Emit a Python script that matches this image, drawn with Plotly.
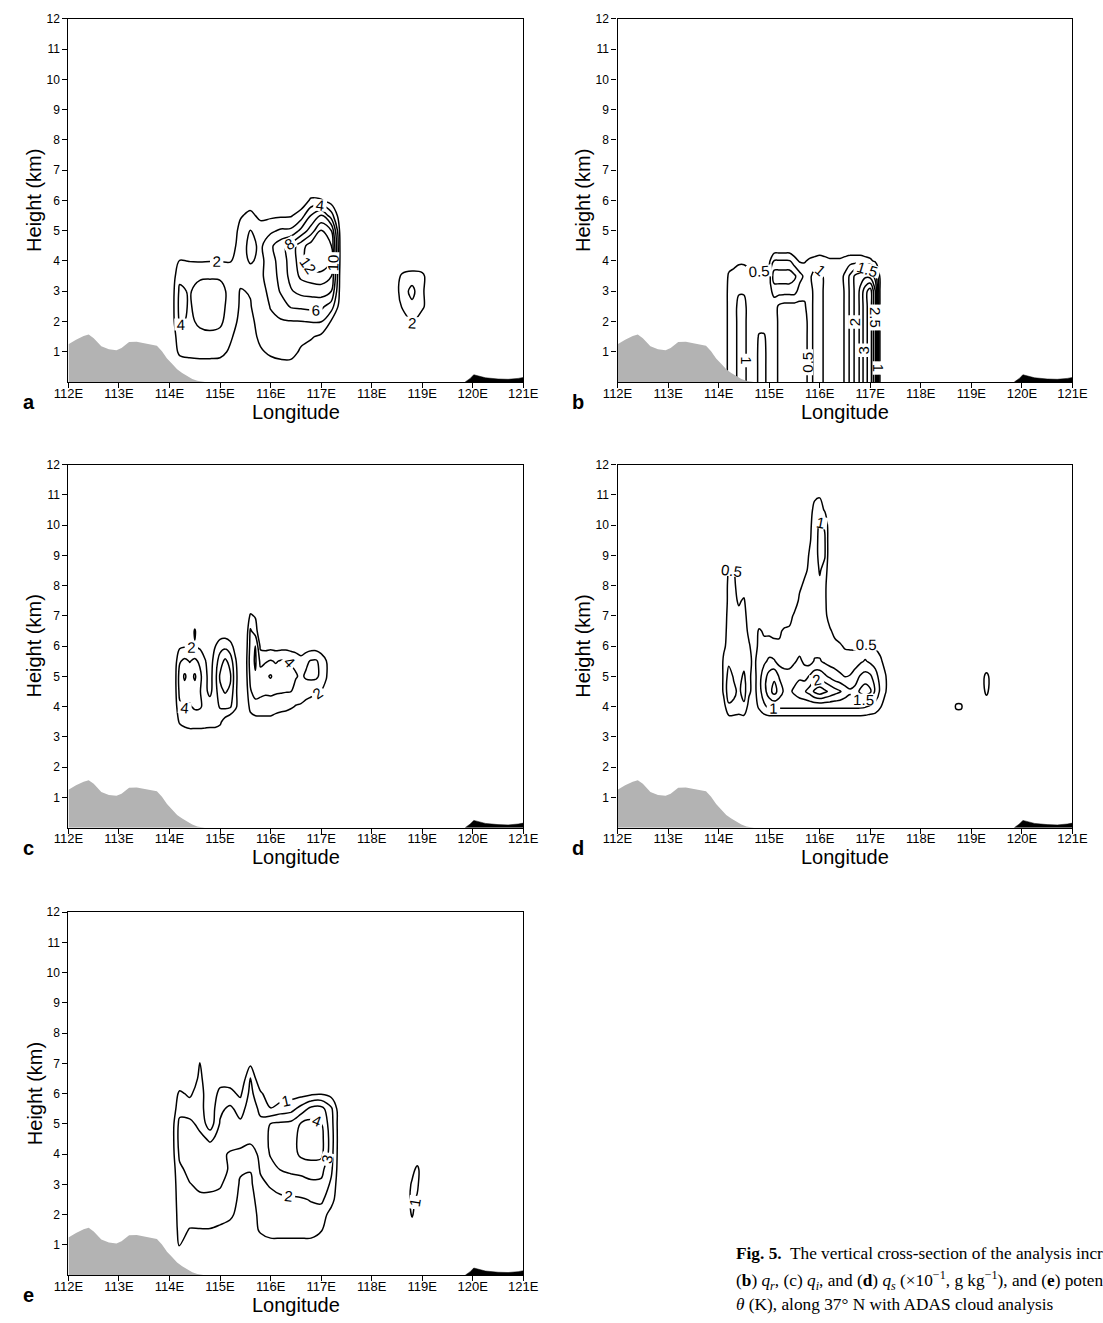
import plotly.graph_objects as go

W, H = 1103, 1323

# ---------------- terrain along 37N ----------------
TERRAIN_LON = [112.0, 112.15, 112.3, 112.4, 112.5, 112.65, 112.8, 112.95, 113.05, 113.2, 113.35,
               113.5, 113.65, 113.75, 113.85, 113.95, 114.05, 114.15, 114.25, 114.35, 114.45, 114.55, 114.7]
TERRAIN_HGT = [1.25, 1.4, 1.52, 1.57, 1.45, 1.18, 1.08, 1.05, 1.12, 1.32, 1.33,
               1.28, 1.22, 1.2, 1.02, 0.78, 0.6, 0.42, 0.3, 0.2, 0.1, 0.04, 0.0]
RIDGE_LON = [119.85, 119.95, 120.02, 120.1, 120.25, 120.5, 120.7, 120.9, 121.0]
RIDGE_HGT = [0.0, 0.12, 0.24, 0.2, 0.14, 0.1, 0.09, 0.12, 0.15]

# ---------------- (a) q_c increment ----------------
A_LON = [113.8, 114.0, 114.2, 114.4, 114.6, 114.8, 115.0, 115.2, 115.4, 115.6,
         115.8, 116.0, 116.2, 116.4, 116.6, 116.8, 117.0, 117.2, 117.4, 117.6]
A_HGT = [0.0, 0.5, 1.0, 1.5, 2.0, 2.5, 3.0, 3.5, 4.0, 4.5, 5.0, 5.5, 6.0, 6.5]
A_QC = [
    [0] * 20,
    [0, 0, 0.5, 0.8, 0.8, 0.8, 0.8, 0.5, 0, 0, 0, 0.6, 1.0, 1.0, 0.6, 0.2, 0, 0, 0, 0],
    [0, 0, 2.5, 2.8, 3.0, 3.0, 2.8, 1.6, 0.4, 0.3, 1.6, 2.6, 3.0, 3.0, 1.6, 1.2, 0.6, 0, 0, 0],
    [0, 0, 3.2, 3.4, 3.6, 3.6, 3.4, 2.4, 0.8, 0.6, 2.8, 3.2, 3.5, 3.5, 2.8, 2.2, 1.6, 0.5, 0, 0],
    [0, 0, 4.3, 3.7, 4.3, 4.6, 4.4, 3.0, 1.5, 1.5, 2.8, 3.6, 3.8, 3.9, 3.95, 4.1, 4.1, 1.8, 0, 0],
    [0, 0, 4.6, 3.8, 4.8, 5.0, 4.8, 3.2, 1.8, 1.9, 3.0, 4.1, 5.0, 6.2, 6.4, 6.6, 6.5, 5.0, 0.5, 0],
    [0, 0, 4.4, 3.8, 5.0, 5.2, 5.0, 3.2, 1.9, 2.1, 3.2, 4.6, 6.2, 7.8, 8.6, 8.8, 9.0, 8.0, 0.5, 0],
    [0, 0, 3.5, 3.2, 3.6, 3.7, 3.6, 2.8, 2.5, 2.6, 3.6, 5.0, 6.6, 8.6, 10.4, 11.0, 11.2, 10.1, 0.3, 0],
    [0, 0, 2.1, 1.95, 1.9, 1.95, 1.95, 1.9, 2.8, 4.3, 3.4, 5.2, 6.8, 8.8, 11.0, 13.4, 13.8, 12.1, 0.3, 0],
    [0, 0, 0.5, 0.4, 0.4, 0.4, 0.5, 0.8, 3.0, 4.6, 3.6, 5.6, 7.2, 8.8, 11.1, 13.0, 13.6, 12.1, 0.3, 0],
    [0, 0, 0, 0, 0, 0, 0, 0.5, 2.6, 4.05, 3.0, 3.6, 4.3, 4.4, 6.5, 9.0, 12.1, 10.1, 0.2, 0],
    [0, 0, 0, 0, 0, 0, 0, 0, 1.8, 2.5, 1.5, 1.6, 1.7, 1.8, 3.0, 6.1, 8.1, 5.0, 0, 0],
    [0, 0, 0, 0, 0, 0, 0, 0, 0, 1.0, 0, 0, 0, 0, 0.5, 2.4, 2.2, 1.0, 0, 0],
    [0] * 20,
]
A2_LON = [118.4, 118.6, 118.8, 119.0, 119.2]
A2_HGT = [1.5, 2.0, 2.5, 3.0, 3.5, 4.0]
A2_QC = [
    [0, 0, 0, 0, 0],
    [0, 0, 2.4, 0.5, 0],
    [0, 2.2, 3.5, 2.5, 0],
    [0, 3.0, 4.6, 2.4, 0],
    [0, 2.4, 3.0, 2.6, 0],
    [0, 0, 0, 0, 0],
]

# ---------------- (b) q_r increment ----------------
B_LON = [114.0, 114.1, 114.2, 114.3, 114.4, 114.5, 114.6, 114.7, 114.8, 114.9,
         115.0, 115.1, 115.2, 115.3, 115.4, 115.5, 115.6, 115.7, 115.8, 115.9,
         116.0, 116.1, 116.2, 116.3, 116.4, 116.5, 116.6, 116.7, 116.8, 116.9,
         117.0, 117.1, 117.2, 117.3, 117.4]
B_HGT = [0.0, 0.5, 1.0, 1.5, 2.0, 2.5, 3.0, 3.5, 4.0, 4.5]
B_QR = [
    [0, 0, 0.7, 0.8, 1.15, 1.15, 0.8, 0.75, 1.1, 1.1, 0.8, 0.7, 0.4, 0.2, 0.15, 0.15, 0.2, 0.3, 0.7, 1.2,
     1.2, 0.9, 0.7, 0.7, 0.8, 1.05, 1.6, 2.1, 2.6, 3.3, 3.8, 2.5, 0.3, 0, 0],
    [0, 0, 0.7, 0.8, 1.15, 1.15, 0.8, 0.75, 1.1, 1.1, 0.8, 0.7, 0.4, 0.2, 0.15, 0.15, 0.2, 0.3, 0.7, 1.2,
     1.2, 0.9, 0.7, 0.7, 0.8, 1.05, 1.6, 2.1, 2.6, 3.3, 3.8, 2.5, 0.3, 0, 0],
    [0, 0, 0.7, 0.8, 1.15, 1.15, 0.8, 0.75, 1.1, 1.1, 0.8, 0.7, 0.4, 0.2, 0.15, 0.15, 0.2, 0.3, 0.7, 1.2,
     1.2, 0.9, 0.7, 0.7, 0.8, 1.05, 1.6, 2.1, 2.6, 3.3, 3.8, 2.5, 0.3, 0, 0],
    [0, 0, 0.7, 0.8, 1.15, 1.15, 0.8, 0.75, 1.05, 1.05, 0.8, 0.7, 0.4, 0.2, 0.15, 0.15, 0.2, 0.3, 0.7, 1.2,
     1.2, 0.9, 0.7, 0.7, 0.8, 1.05, 1.6, 2.1, 2.6, 3.3, 3.8, 2.5, 0.3, 0, 0],
    [0, 0, 0.7, 0.8, 1.15, 1.15, 0.8, 0.75, 0.8, 0.8, 0.8, 0.7, 0.4, 0.2, 0.15, 0.15, 0.2, 0.3, 0.7, 1.2,
     1.2, 0.9, 0.7, 0.7, 0.8, 1.05, 1.6, 2.1, 2.6, 3.3, 3.8, 2.5, 0.3, 0, 0],
    [0, 0, 0.7, 0.8, 1.15, 1.15, 0.8, 0.75, 0.8, 0.8, 0.8, 0.7, 0.4, 0.3, 0.3, 0.3, 0.35, 0.45, 0.7, 1.2,
     1.2, 0.9, 0.7, 0.7, 0.8, 1.05, 1.6, 2.1, 2.6, 3.3, 3.8, 2.5, 0.3, 0, 0],
    [0, 0, 0.7, 0.8, 0.95, 0.95, 0.8, 0.75, 0.8, 0.8, 0.8, 1.2, 1.2, 1.2, 1.2, 1.2, 0.8, 0.6, 0.7, 1.2,
     1.2, 0.9, 0.7, 0.7, 0.8, 1.05, 1.6, 2.1, 2.6, 3.3, 3.8, 2.5, 0.3, 0, 0],
    [0, 0, 0.6, 0.7, 0.8, 0.8, 0.7, 0.6, 0.6, 0.6, 0.8, 1.8, 1.8, 1.8, 1.8, 1.6, 1.2, 0.9, 0.9, 1.2,
     1.2, 0.9, 0.8, 0.8, 0.8, 1.1, 1.6, 2.1, 2.3, 2.4, 2.3, 1.8, 0.3, 0, 0],
    [0, 0, 0.2, 0.3, 0.4, 0.4, 0.3, 0.2, 0.2, 0.2, 0.4, 1.05, 1.05, 1.05, 1.05, 0.7, 0.45, 0.45, 0.6, 0.7,
     0.8, 0.7, 0.6, 0.6, 0.6, 0.7, 0.8, 0.8, 0.8, 0.7, 0.6, 0.4, 0, 0, 0],
    [0] * 35,
]

# ---------------- (c) q_i increment ----------------
C_LON = [113.9, 114.0, 114.1, 114.2, 114.3, 114.4, 114.5, 114.6, 114.7, 114.8,
         114.9, 115.0, 115.1, 115.2, 115.3, 115.4, 115.5, 115.6, 115.7, 115.8,
         115.9, 116.0, 116.1, 116.2, 116.3, 116.4, 116.5, 116.6, 116.7, 116.8,
         116.9, 117.0, 117.1, 117.2, 117.3]
C_HGT = [3.0, 3.5, 4.0, 4.5, 5.0, 5.5, 6.0, 6.5, 7.0, 7.5]
C_QI = [
    [0, 0, 0, 0, 0.5, 0.8, 1.0, 1.0, 1.0, 1.0, 1.0, 0.5],
    [0, 0, 0.5, 2.3, 2.8, 3.0, 2.8, 2.8, 2.7, 2.6, 2.6, 2.4, 1.0, 0, 0, 0, 0, 1.0, 1.2, 1.4,
     1.5, 1.5, 1.3, 1.1, 1.0, 0.8, 0.6, 0.4],
    [0, 0, 0.8, 3.6, 4.2, 3.8, 4.3, 4.2, 3.6, 3.0, 3.2, 4.2, 4.5, 4.3, 2.5, 0.8, 0.3, 2.6, 3.2, 3.0,
     2.8, 2.8, 2.6, 2.5, 2.4, 2.2, 1.9, 1.8, 1.5, 1.3, 1.1, 0.8, 0.4],
    [0, 0, 1.0, 4.5, 5.2, 4.6, 5.2, 4.2, 2.5, 1.5, 3.0, 5.5, 6.2, 5.6, 2.6, 0.5, 0.5, 3.8, 4.8, 4.6,
     4.4, 4.5, 4.3, 4.2, 4.1, 4.05, 3.0, 2.8, 2.6, 2.4, 2.2, 1.9, 1.2],
    [0, 0, 1.0, 4.8, 6.3, 5.0, 6.3, 4.6, 2.6, 1.2, 3.2, 6.3, 6.8, 6.4, 2.8, 0.5, 0.8, 4.5, 5.8, 4.8,
     5.6, 6.2, 5.2, 4.6, 4.4, 4.4, 4.2, 3.6, 4.3, 4.5, 4.4, 3.5, 2.2, 0.3],
    [0, 0, 0.8, 3.8, 4.5, 3.9, 4.5, 3.6, 2.2, 1.0, 2.9, 5.0, 6.5, 5.2, 2.4, 0.3, 0.8, 5.0, 6.3, 3.5,
     3.8, 4.2, 3.8, 4.2, 4.3, 3.9, 3.5, 2.8, 3.6, 4.2, 4.3, 3.2, 2.1, 0.3],
    [0, 0, 0.3, 1.6, 1.8, 1.8, 1.8, 1.6, 1.0, 0.5, 1.9, 3.2, 3.4, 2.8, 1.2, 0, 0.5, 4.6, 6.1, 1.5,
     1.2, 1.3, 1.2, 1.2, 1.2, 1.0, 0.8, 0.6, 0.8, 1.0, 1.0, 0.8, 0.4],
    [0, 0, 0, 0, 0, 0, 2.3, 0, 0, 0, 0, 0.5, 0.7, 0.3, 0, 0, 0, 4.3, 3.0],
    [0, 0, 0, 0, 0, 0, 0, 0, 0, 0, 0, 0, 0, 0, 0, 0, 0, 2.3, 1.8],
    [],
]

# ---------------- (d) q_s increment ----------------
D_LON = [113.9, 114.0, 114.1, 114.2, 114.3, 114.4, 114.5, 114.6, 114.7, 114.8,
         114.9, 115.0, 115.1, 115.2, 115.3, 115.4, 115.5, 115.6, 115.7, 115.8,
         115.9, 116.0, 116.1, 116.2, 116.3, 116.4, 116.5, 116.6, 116.7, 116.8,
         116.9, 117.0, 117.1, 117.2, 117.3, 117.4, 117.5]
D_HGT = [3.5, 4.0, 4.5, 5.0, 5.5, 6.0, 6.5, 7.0, 7.5, 8.0, 8.5, 9.0, 9.5, 10.0, 10.5, 11.0, 11.5]
D_QS = [
    [0, 0, 0, 0.2, 0.2, 0.2, 0.2, 0, 0, 0, 0.1, 0.1, 0.1, 0.1, 0.1, 0.1, 0.1, 0.1, 0.1, 0.1,
     0.1, 0.1, 0.1, 0.1, 0.1, 0.1, 0.1, 0.1, 0.1, 0.1, 0.1, 0.1, 0.1],
    [0, 0, 0.3, 0.9, 0.9, 0.8, 0.9, 0.3, 0.2, 0.6, 0.9, 1.1, 1.1, 1.1, 1.1, 1.1, 1.1, 1.1, 1.1, 1.1,
     1.1, 1.1, 1.1, 1.1, 1.1, 1.1, 1.1, 1.1, 1.1, 1.1, 1.05, 0.9, 0.8, 0.55, 0.2],
    [0, 0, 0.6, 1.3, 1.1, 0.9, 1.2, 0.6, 0.3, 0.8, 1.3, 1.8, 2.2, 1.8, 1.4, 1.4, 1.6, 1.8, 1.95, 2.2,
     2.6, 2.8, 2.6, 2.4, 2.2, 2.05, 1.8, 1.6, 1.7, 2.1, 2.3, 2.1, 1.4, 0.9, 0.55, 0.1],
    [0, 0, 0.6, 1.2, 0.95, 0.8, 1.1, 0.6, 0.3, 0.8, 1.3, 1.7, 1.9, 1.45, 1.2, 1.1, 1.3, 1.4, 1.3, 1.55,
     1.8, 1.8, 1.6, 1.4, 1.2, 1.1, 0.98, 1.02, 1.2, 1.55, 1.7, 1.6, 1.2, 0.8, 0.55, 0.1],
    [0, 0, 0.6, 0.9, 0.8, 0.7, 0.8, 0.6, 0.4, 0.7, 0.9, 1.1, 1.05, 0.8, 0.8, 0.9, 0.95, 1.1, 0.9, 0.8,
     1.05, 1.05, 0.9, 0.8, 0.8, 0.7, 0.7, 0.8, 0.8, 0.9, 1.05, 0.9, 0.8, 0.6, 0.3],
    [0, 0, 0.4, 0.7, 0.7, 0.6, 0.7, 0.55, 0.3, 0.6, 0.6, 0.7, 0.6, 0.55, 0.6, 0.6, 0.7, 0.8, 0.8, 0.8,
     0.8, 0.8, 0.7, 0.6, 0.6, 0.55, 0.45, 0.4, 0.4, 0.55, 0.6, 0.6, 0.45, 0.3, 0.1],
    [0, 0, 0.3, 0.7, 0.6, 0.6, 0.7, 0.4, 0.3, 0.55, 0.45, 0.4, 0.4, 0.45, 0.55, 0.55, 0.6, 0.65, 0.7, 0.7,
     0.75, 0.75, 0.65, 0.55, 0.4, 0.3, 0.2, 0.1, 0.1, 0.1, 0.1, 0.1],
    [0, 0, 0.2, 0.7, 0.55, 0.6, 0.65, 0.3, 0.1, 0.2, 0.1, 0.1, 0, 0, 0.3, 0.4, 0.55, 0.6, 0.6, 0.65,
     0.7, 0.75, 0.6, 0.35, 0.1],
    [0, 0, 0, 0.7, 0.6, 0.45, 0.55, 0.2, 0, 0, 0, 0, 0, 0, 0, 0.2, 0.35, 0.55, 0.6, 0.6,
     0.7, 0.8, 0.6, 0.2],
    [0, 0, 0.1, 0.65, 0.6, 0.3, 0.3, 0, 0, 0, 0, 0, 0, 0, 0, 0, 0.2, 0.45, 0.55, 0.55,
     0.7, 0.9, 0.6, 0.2],
    [0, 0, 0, 0.55, 0.55, 0.1, 0, 0, 0, 0, 0, 0, 0, 0, 0, 0, 0, 0.3, 0.45, 0.55,
     0.7, 1.05, 0.8, 0.1],
    [0, 0, 0, 0.2, 0.2, 0, 0, 0, 0, 0, 0, 0, 0, 0, 0, 0, 0, 0.1, 0.3, 0.55,
     0.7, 1.2, 1.05, 0.1],
    [0, 0, 0, 0, 0, 0, 0, 0, 0, 0, 0, 0, 0, 0, 0, 0, 0, 0, 0.1, 0.45,
     0.7, 1.2, 1.05, 0.1],
    [0, 0, 0, 0, 0, 0, 0, 0, 0, 0, 0, 0, 0, 0, 0, 0, 0, 0, 0, 0.4,
     0.7, 1.1, 0.95, 0.1],
    [0, 0, 0, 0, 0, 0, 0, 0, 0, 0, 0, 0, 0, 0, 0, 0, 0, 0, 0, 0.3,
     0.65, 0.7, 0.45],
    [0, 0, 0, 0, 0, 0, 0, 0, 0, 0, 0, 0, 0, 0, 0, 0, 0, 0, 0, 0,
     0.4, 0.45, 0.2],
    [],
]
D2_LON = [118.5, 118.6, 118.7, 118.8, 118.9, 119.0, 119.1, 119.2, 119.3, 119.4, 119.5]
D2_HGT = [3.5, 4.0, 4.5, 5.0, 5.5]
D2_QS = [
    [0] * 11,
    [0, 0, 0.6, 0.6, 0, 0, 0, 0, 0.2, 0, 0],
    [0, 0, 0, 0, 0, 0, 0, 0.3, 0.6, 0.3, 0],
    [0, 0, 0, 0, 0, 0, 0, 0.3, 0.65, 0.3, 0],
    [0] * 11,
]

# ---------------- (e) potential temperature increment ----------------
E_LON = [113.8, 114.0, 114.2, 114.4, 114.6, 114.8, 115.0, 115.2, 115.4, 115.6,
         115.8, 116.0, 116.2, 116.4, 116.6, 116.8, 117.0, 117.2, 117.4, 117.6]
E_HGT = [0.5, 1.0, 1.5, 2.0, 2.5, 3.0, 3.5, 4.0, 4.5, 5.0, 5.5, 6.0, 6.5, 7.0, 7.5]
E_TH = [
    [0] * 20,
    [0, 0, 1.1, 0.3, 0, 0, 0, 0, 0, 0, 0.3, 0.5, 0.5, 0.5, 0.5, 0.5, 0.2, 0, 0, 0],
    [0, 0, 1.3, 0.95, 0.95, 0.95, 0.8, 0.6, 0.2, 0.3, 1.2, 1.6, 1.6, 1.6, 1.6, 1.6, 1.1, 0.3, 0, 0],
    [0, 0, 1.4, 1.4, 1.5, 1.5, 1.4, 1.2, 0.6, 0.5, 1.3, 1.5, 1.6, 1.6, 1.6, 1.7, 1.5, 0.6, 0, 0],
    [0, 0, 1.5, 1.6, 1.8, 1.8, 1.7, 1.4, 0.8, 0.7, 1.4, 1.7, 1.8, 1.85, 1.9, 2.05, 2.2, 1.4, 0, 0],
    [0, 0, 1.6, 1.95, 2.2, 2.2, 2.1, 1.6, 0.9, 0.8, 1.8, 2.1, 2.4, 2.5, 2.6, 2.8, 2.8, 1.8, 0, 0],
    [0, 0, 1.8, 2.3, 2.4, 2.4, 2.3, 1.9, 1.1, 1.05, 2.1, 2.6, 3.05, 3.2, 3.3, 3.4, 3.3, 2.2, 0, 0],
    [0, 0, 2.2, 2.5, 2.5, 2.4, 2.2, 1.9, 1.8, 1.6, 2.2, 3.1, 3.3, 3.5, 4.2, 4.4, 4.3, 2.4, 0, 0],
    [0, 0, 2.4, 2.4, 2.2, 1.9, 2.2, 2.4, 2.3, 2.2, 2.4, 3.2, 3.2, 3.4, 4.4, 4.6, 4.4, 2.5, 0, 0],
    [0, 0, 2.3, 2.2, 1.8, 0.4, 2.1, 2.3, 2.2, 2.3, 2.2, 3.05, 3.2, 3.3, 4.1, 4.3, 4.05, 2.4, 0, 0],
    [0, 0, 1.6, 1.6, 1.4, 0.3, 1.8, 2.2, 1.6, 2.5, 1.8, 1.05, 1.4, 1.6, 2.4, 3.3, 3.4, 2.2, 0, 0],
    [0, 0, 1.2, 0.8, 1.6, 0, 1.4, 1.3, 0.8, 2.3, 1.2, 0.3, 0.5, 0.6, 0.6, 0.8, 0.9, 0.6, 0, 0],
    [0, 0, 0.2, 0, 1.3, 0, 0.4, 0.5, 0, 2.05, 0, 0, 0, 0, 0, 0, 0, 0, 0, 0],
    [0, 0, 0, 0, 1.05, 0, 0, 0, 0, 0.8, 0, 0, 0, 0, 0, 0, 0, 0, 0, 0],
    [0] * 20,
]
E2_LON = [118.6, 118.7, 118.8, 118.9, 119.0, 119.1]
E2_HGT = [1.5, 2.0, 2.5, 3.0, 3.5, 4.0]
E2_TH = [
    [0, 0, 0, 0, 0, 0],
    [0, 0, 1.2, 0, 0, 0],
    [0, 0.6, 1.3, 0.8, 0, 0],
    [0, 0.4, 1.2, 1.3, 0, 0],
    [0, 0, 0.6, 1.3, 0.4, 0],
    [0, 0, 0, 0, 0, 0],
]

LON_TICKS = [112, 113, 114, 115, 116, 117, 118, 119, 120, 121]
LON_TICK_TEXT = ["112E", "113E", "114E", "115E", "116E", "117E", "118E", "119E", "120E", "121E"]
HGT_TICKS = [1, 2, 3, 4, 5, 6, 7, 8, 9, 10, 11, 12]


def full_rows(rows, ncol):
    """Rows may omit trailing zero columns; complete them."""
    return [list(r) + [0] * (ncol - len(r)) for r in rows]


# panel letter, pixel box (left, right, top, bottom), fields, contour levels
PANELS = [
    ("a", (55, 523, 12, 377), [(A_LON, A_HGT, A_QC), (A2_LON, A2_HGT, A2_QC)], (2, 14, 2)),
    ("b", (620, 1088, 12, 377), [(B_LON, B_HGT, B_QR)], (0.5, 4, 0.5)),
    ("c", (55, 523, 460, 825), [(C_LON, C_HGT, C_QI)], (2, 8, 2)),
    ("d", (620, 1088, 460, 825), [(D_LON, D_HGT, D_QS), (D2_LON, D2_HGT, D2_QS)], (0.5, 3, 0.5)),
    ("e", (55, 523, 910, 1275), [(E_LON, E_HGT, E_TH), (E2_LON, E2_HGT, E2_TH)], (1, 5, 1)),
]

fig = go.Figure()
layout = dict(
    width=W, height=H, margin=dict(l=0, r=0, t=0, b=0),
    paper_bgcolor="white", plot_bgcolor="white", showlegend=False,
    font=dict(family="Liberation Sans, Arial, sans-serif", color="black"),
)
annotations = []
TITLE_FONT = dict(family="Liberation Sans, Arial, sans-serif", size=20, color="black")

for i, (letter, (x0, x1, y0, y1), fields, (lo, hi, step)) in enumerate(PANELS):
    n = "" if i == 0 else str(i + 1)
    xa, ya = "x" + n, "y" + n
    for lon, hgt, z in fields:
        fig.add_trace(go.Contour(
            x=lon, y=hgt, z=full_rows(z, len(lon)),
            xaxis=xa, yaxis=ya,
            autocontour=False,
            contours=dict(start=lo, end=hi, size=step, coloring="lines", showlabels=True,
                          labelfont=dict(family="Liberation Sans, Arial, sans-serif", size=15, color="black")),
            colorscale=[[0, "black"], [1, "black"]], showscale=False,
            line=dict(width=1.5, smoothing=1.0), hoverinfo="skip",
        ))
    fig.add_trace(go.Scatter(x=TERRAIN_LON, y=TERRAIN_HGT, xaxis=xa, yaxis=ya, mode="lines",
                             fill="tozeroy", fillcolor="#b3b3b3", line=dict(width=0, color="#b3b3b3"),
                             hoverinfo="skip"))
    fig.add_trace(go.Scatter(x=RIDGE_LON, y=RIDGE_HGT, xaxis=xa, yaxis=ya, mode="lines",
                             fill="tozeroy", fillcolor="black", line=dict(width=0.5, color="black"),
                             hoverinfo="skip"))
    layout["xaxis" + n] = dict(
        domain=[x0 / W, x1 / W], anchor=ya, range=[112, 121],
        tickvals=LON_TICKS, ticktext=LON_TICK_TEXT, ticks="outside", ticklen=5, tickwidth=1.2,
        tickcolor="black", showline=True, linecolor="black", linewidth=1.4, mirror=True,
        showgrid=False, zeroline=False, ticklabelstandoff=-6,
        tickfont=dict(family="Liberation Sans Narrow, Liberation Sans, Arial", size=13, color="black"),
    )
    layout["yaxis" + n] = dict(
        domain=[1 - y1 / H, 1 - y0 / H], anchor=xa, range=[0, 12],
        tickvals=HGT_TICKS, ticks="outside", ticklen=5, tickwidth=1.2,
        tickcolor="black", showline=True, linecolor="black", linewidth=1.4, mirror=True,
        showgrid=False, zeroline=False,
        tickfont=dict(family="Liberation Sans, Arial", size=12, color="black"),
    )
    xc = (x0 + x1) / 2
    annotations.append(dict(text="Longitude", x=xc / W, y=1 - (y1 + 30) / H, xref="paper", yref="paper",
                            showarrow=False, font=TITLE_FONT, xanchor="center", yanchor="middle"))
    annotations.append(dict(text="Height (km)", x=(x0 - 35) / W, y=1 - (y0 + y1) / 2 / H, xref="paper",
                            yref="paper", showarrow=False, font=TITLE_FONT, textangle=-90,
                            xanchor="center", yanchor="middle"))
    annotations.append(dict(text="<b>%s</b>" % letter, x=(x0 - 41) / W, y=1 - (y1 + 20) / H,
                            xref="paper", yref="paper", showarrow=False,
                            font=dict(family="Liberation Sans, Arial", size=20, color="black"),
                            xanchor="center", yanchor="middle"))

CAPTION = [
    "<b>Fig. 5.</b>  The vertical cross-section of the analysis increments of (<b>a</b>) <i>q<sub>c</sub></i>,",
    "(<b>b</b>) <i>q<sub>r</sub></i>, (c) <i>q<sub>i</sub></i>, and (<b>d</b>) <i>q<sub>s</sub></i> "
    "(×10<sup>−1</sup>, g kg<sup>−1</sup>), and (<b>e</b>) potential temperature",
    "<i>θ</i> (K), along 37° N with ADAS cloud analysis",
]
CAPTION_Y = [1255, 1280, 1304]
for line, yy in zip(CAPTION, CAPTION_Y):
    annotations.append(dict(text=line, x=740 / W, y=1 - yy / H, xref="paper", yref="paper",
                            showarrow=False, xanchor="left", yanchor="middle", align="left",
                            font=dict(family="Liberation Serif, Times New Roman, serif", size=17.3,
                                      color="black")))

layout["annotations"] = annotations
fig.update_layout(**layout)
fig.write_html("out.html")
